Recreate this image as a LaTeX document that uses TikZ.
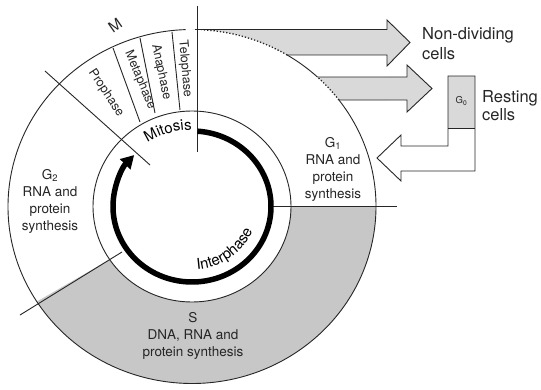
\documentclass[tikz,border=0pt]{standalone}
\usepackage{fontspec}
\setmainfont{TeX Gyre Heros}
\usetikzlibrary{arrows.meta,decorations.text}

\definecolor{ink}{gray}{0.15}
\definecolor{sfill}{gray}{0.78}
\definecolor{afill}{gray}{0.85}
\newcommand{\fsz}[2]{\fontsize{#1}{#2}\selectfont}

\begin{document}
\begin{tikzpicture}[x=1pt,y=1pt,
  rim/.style={draw=ink, line width=0.9pt},
  dotrim/.style={draw=ink, line width=1.3pt, dash pattern=on 1.3pt off 1.9pt},
  txt/.style={inner sep=0pt, align=center, text=ink},
  big/.style={txt, font=\fsz{16.5}{20}, anchor=west, align=left},
  phase/.style={txt, font=\fsz{13.5}{17}},
  stage/.style={txt, font=\fsz{12.5}{15}}]

% page
\fill[white] (0,0) rectangle (541,-390);
\useasboundingbox (0,0) rectangle (541,-390);

% centre of the cycle
\coordinate (C) at (192,-206.5);

% S phase shading
\fill[sfill] ([shift={(C)}]0:184 and 177)
  arc[start angle=0, end angle=-147.5, x radius=184, y radius=177]
  -- ([shift={(C)}]-146.3:99 and 95.5)
  arc[start angle=-146.3, end angle=0, x radius=99, y radius=95.5] -- cycle;

% block arrows leaving G1
\coordinate (a1b) at ([shift={(C)}]58.87:184 and 177);
\coordinate (a2t) at ([shift={(C)}]47.02:184 and 177);
\coordinate (a2b) at ([shift={(C)}]36.99:184 and 177);

\fill[afill] (192,-29.5) -- (387,-29.5) -- (387,-20) -- (410,-42.5) -- (387,-66) -- (387,-55) -- (a1b)
  arc[start angle=58.87, end angle=90, x radius=184, y radius=177] -- cycle;
\draw[rim] (195,-29.5) -- (387,-29.5) -- (387,-20) -- (410,-42.5) -- (387,-66) -- (387,-55) -- (a1b);

\fill[afill] (a2t) -- (407,-77) -- (407,-65) -- (432,-88.5) -- (407,-112) -- (407,-100) -- (a2b)
  arc[start angle=36.99, end angle=47.02, x radius=184, y radius=177] -- cycle;
\draw[rim] (a2t) -- (407,-77) -- (407,-65) -- (432,-88.5) -- (407,-112) -- (407,-100) -- (a2b);

% outer rim of the cycle
\draw[rim] (a2b) arc[start angle=36.99, end angle=-268, x radius=184, y radius=177];
\draw[dotrim] (a2b) arc[start angle=36.99, end angle=47.02, x radius=184, y radius=177];
\draw[rim] (a2t) arc[start angle=47.02, end angle=58.87, x radius=184, y radius=177];
\draw[dotrim] (a1b) arc[start angle=58.87, end angle=87, x radius=184, y radius=177];

% inner rim
\draw[rim] (C) ellipse[x radius=99, y radius=95.5];

% phase boundaries
\draw[rim] (197,-6) -- (197,-152);
\draw[rim] (45,-71) -- (150,-165);
\draw[rim] (20,-315) -- (122,-252);
\draw[rim] (272,-206.5) -- (397,-206.5);

% mitosis stages
\draw[rim] (180,-110) -- (172,-32);
\draw[rim] (155,-113) -- (140,-38);
\draw[rim] (140,-122) -- (113,-48);

% resting cells: G0 box and return arrow
\fill[afill] (448,-76) rectangle (475,-128);
\draw[rim] (377,-158) -- (401,-135) -- (401,-146) -- (448,-146) -- (448,-76) -- (475,-76)
  -- (475,-171) -- (401,-171) -- (401,-181) -- cycle;
\draw[rim] (448,-128) -- (475,-128);

% cycle arrow
\draw[line width=5.5pt, -{Triangle[length=13pt,width=14pt]}]
  ([shift={(C)}]86:79 and 75.5) arc[start angle=86, end angle=-223, x radius=79, y radius=75.5];

% curved labels
\path[decorate, decoration={text along path, text={|\fsz{15}{18}|Mitosis}, text align=center}]
  ([shift={(C)}]130:80 and 76.5) arc[start angle=130, end angle=84, x radius=80, y radius=76.5];
\path[decorate, decoration={text along path, text={|\fsz{15}{18}|Interphase}, text align=center}]
  ([shift={(C)}]-100:66 and 63) arc[start angle=-100, end angle=-8, x radius=66, y radius=63];

% labels
\node[big] (nondiv) at (422,-44) {Non-dividing\\cells};
\node[big, font=\fsz{16.5}{18}] (resting) at (482,-106) {Resting\\cells};
\node[txt, font=\fsz{9.5}{11}] (gzero) at (461.5,-101) {G\textsubscript{0}};
\node[phase] (gone) at (333,-169) {G\textsubscript{1}\\RNA and\\protein\\synthesis};
\node[phase] (gtwo) at (50,-201) {G\textsubscript{2}\\RNA and\\protein\\synthesis};
\node[phase] (sphase) at (193,-336) {S\\DNA, RNA and\\protein synthesis};
\node[txt, font=\fsz{15}{18}, rotate=35] (mlabel) at (115,-25) {M};
\node[stage, rotate=-56] (pro) at (106,-93) {Prophase};
\node[stage, rotate=-67] (meta) at (140,-80) {Metaphase};
\node[stage, rotate=-78] (ana) at (161,-72) {Anaphase};
\node[stage, rotate=-85] (telo) at (185,-69) {Telophase};
\end{tikzpicture}
\end{document}
